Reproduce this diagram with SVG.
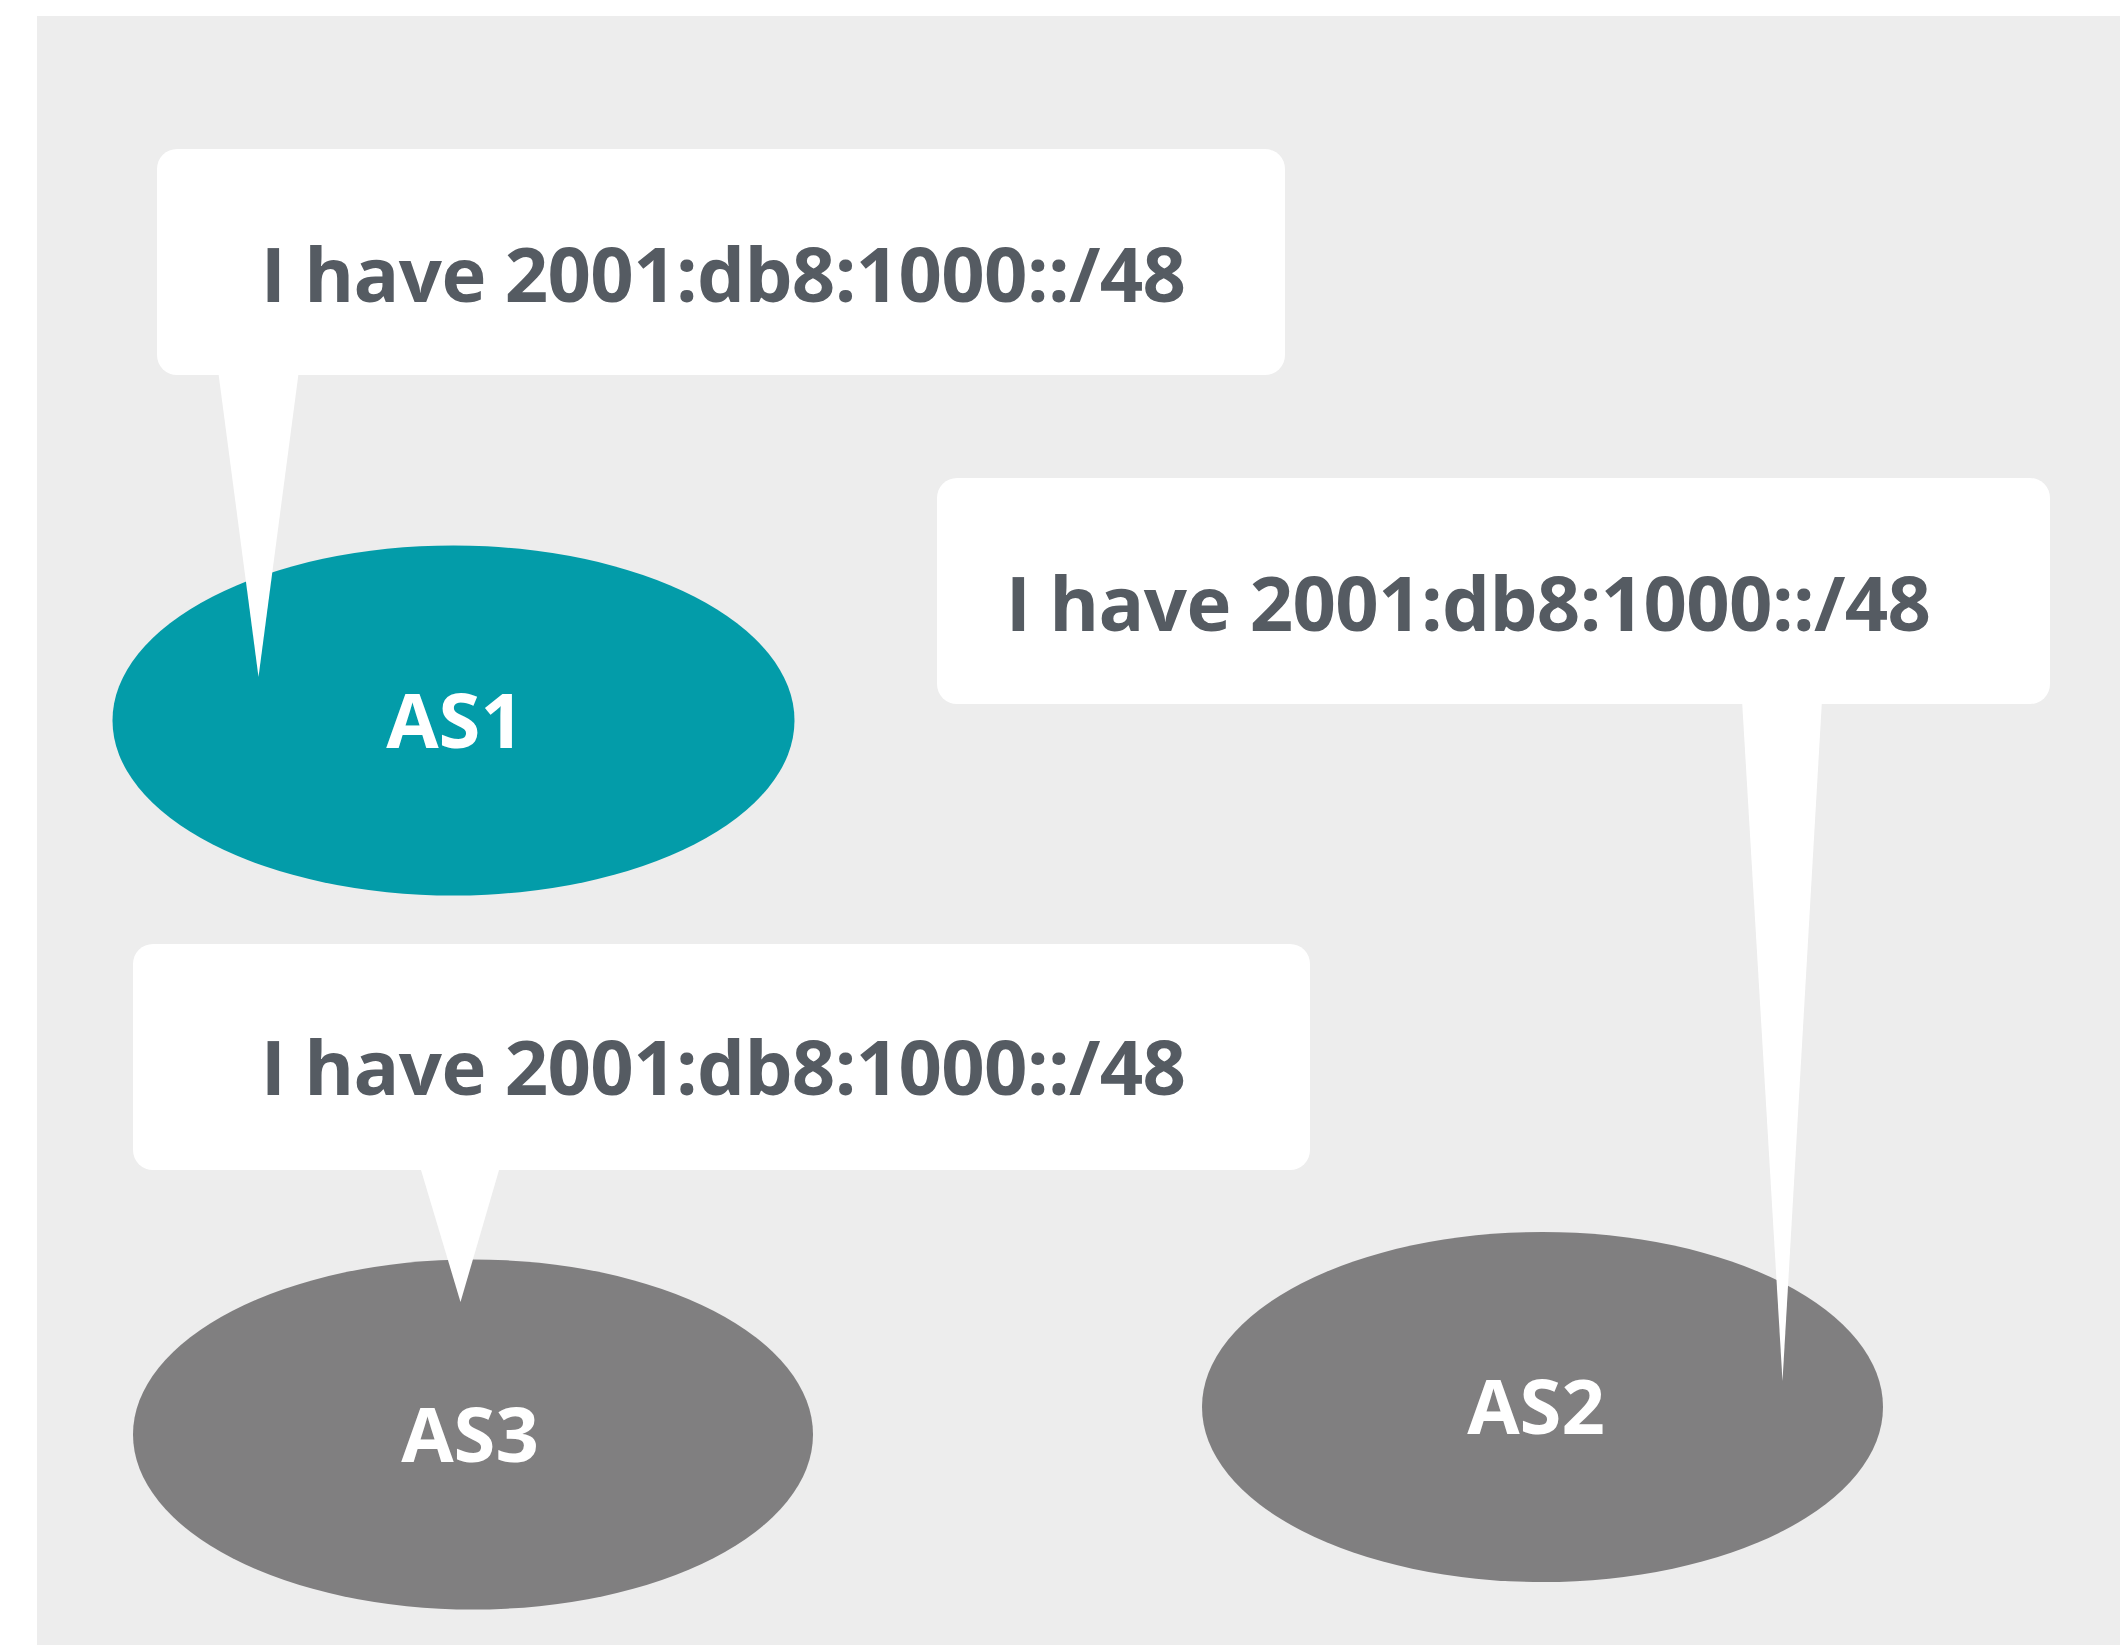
<svg xmlns="http://www.w3.org/2000/svg" width="2120" height="1645" viewBox="0 0 2120 1645">
<style>
.bubble{fill:#FFFFFF}
.msg{font-family:"Open Sans","Noto Sans","Liberation Sans",sans-serif;font-weight:700;font-size:76px;letter-spacing:-0.65px;fill:#555B62;text-anchor:middle}
.lbl{font-family:"Open Sans","Noto Sans","Liberation Sans",sans-serif;font-weight:700;font-size:76px;fill:#FFFFFF;text-anchor:middle}
.as-main{fill:#039CA9}
.as-other{fill:#807F80}
</style>
<rect x="0" y="0" width="2120" height="1645" fill="#FFFFFF"/>
<rect x="37" y="16" width="2083" height="1629" fill="#EDEDED"/>
<g id="AS1"><ellipse class="as-main" cx="453.5" cy="720.5" rx="341" ry="175"/><text class="lbl" x="455" y="748">AS1</text></g>
<g id="AS2"><ellipse class="as-other" cx="1542.5" cy="1407" rx="340.5" ry="175"/><text class="lbl" x="1536" y="1434">AS2</text></g>
<g id="AS3"><ellipse class="as-other" cx="473" cy="1434.5" rx="340" ry="175"/><text class="lbl" x="470" y="1462">AS3</text></g>
<g id="connectors">
<polygon class="bubble" points="218,370 299,370 258.5,677"/>
<polygon class="bubble" points="1742,700 1822,700 1782.5,1381"/>
<polygon class="bubble" points="419.5,1165 500.5,1165 460.5,1302"/>
</g>
<g id="bubble1"><rect class="bubble" x="157" y="149" width="1128" height="226" rx="20"/><text class="msg" x="723" y="302">I have 2001:db8:1000::/48</text></g>
<g id="bubble2"><rect class="bubble" x="937" y="478" width="1113" height="226" rx="20"/><text class="msg" x="1468" y="631">I have 2001:db8:1000::/48</text></g>
<g id="bubble3"><rect class="bubble" x="133" y="944" width="1177" height="226" rx="20"/><text class="msg" x="723" y="1095">I have 2001:db8:1000::/48</text></g>
</svg>
